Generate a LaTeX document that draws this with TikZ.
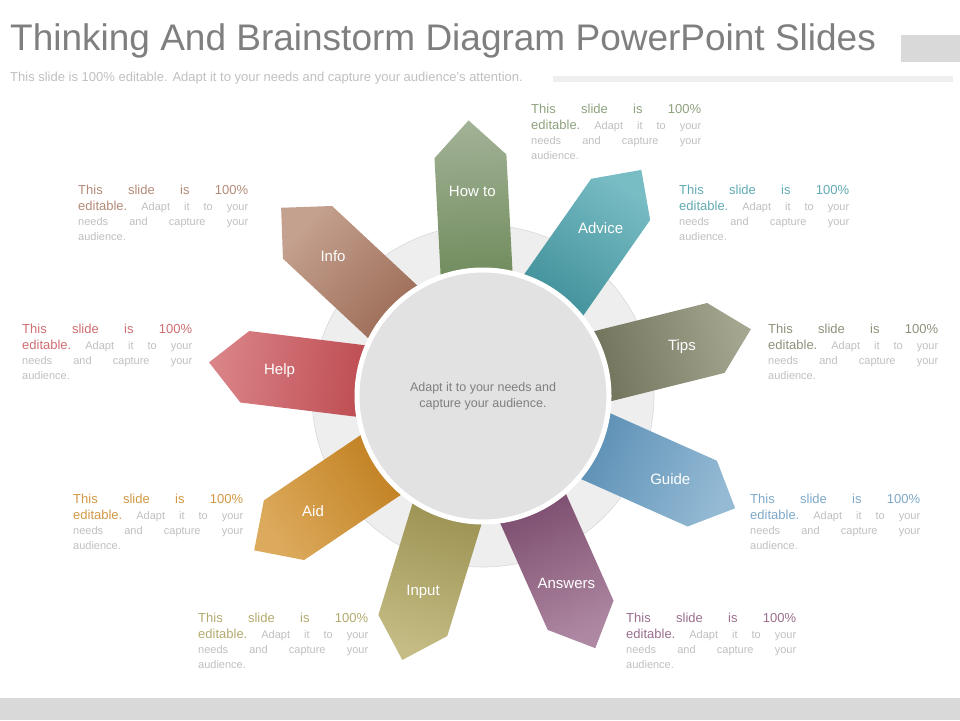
\documentclass[tikz,border=0pt]{standalone}
\usepackage{fontspec}
\setmainfont{Liberation Sans}
\definecolor{titlegray}{HTML}{7F7F7F}
\definecolor{subgray}{HTML}{BFBFBF}
\definecolor{bargray}{HTML}{D9D9D9}
\definecolor{ringgray}{HTML}{EEEEEE}
\definecolor{hubgray}{HTML}{E2E2E2}
\definecolor{howD}{HTML}{6E8A5A}\definecolor{howL}{HTML}{A2B296}
\definecolor{advD}{HTML}{3E8E98}\definecolor{advL}{HTML}{78BCC4}
\definecolor{tipD}{HTML}{6E7058}\definecolor{tipL}{HTML}{A4A690}
\definecolor{gdeD}{HTML}{5A8EB4}\definecolor{gdeL}{HTML}{94BAD4}
\definecolor{ansD}{HTML}{7A4A6C}\definecolor{ansL}{HTML}{AE88A2}
\definecolor{inpD}{HTML}{9A9050}\definecolor{inpL}{HTML}{C4BC84}
\definecolor{aidD}{HTML}{C07E1E}\definecolor{aidL}{HTML}{DCAA5C}
\definecolor{hlpD}{HTML}{BC4A50}\definecolor{hlpL}{HTML}{DA8488}
\definecolor{infD}{HTML}{9A6A54}\definecolor{infL}{HTML}{C4A08E}
\newcommand{\descbox}[1]{%
  \hbox to 170pt{\fontsize{13pt}{15pt}\selectfont\color{#1}This\hfill slide\hfill is\hfill 100\%}\\[1pt]
  \hbox to 170pt{{\fontsize{13pt}{15pt}\selectfont\color{#1}editable.}\hfill Adapt\hfill it\hfill to\hfill your}\\
  \hbox to 170pt{needs\hfill and\hfill capture\hfill your}\\
  \hbox to 170pt{audience.\hfill}}
\begin{document}
\begin{tikzpicture}
    [
        x = 1pt, y = -1pt,
        lbl/.style  = {text=white, font=\fontsize{15pt}{17pt}\selectfont},
        desc/.style = {anchor=north west, inner sep=0pt, text=subgray,
                       font=\fontsize{11pt}{15pt}\selectfont, align=left},
    ]
    \useasboundingbox (0,0) rectangle (960,720);
    % header and footer
    \node [anchor=west, inner sep=0pt, text=titlegray, font=\fontsize{37pt}{42pt}\selectfont] (title) at (10,41)
        {Thinking And Brainstorm Diagram PowerPoint Slides};
    \node [anchor=west, inner sep=0pt, text=subgray, font=\fontsize{13pt}{15pt}\selectfont] (subtitle) at (10,78)
        {This slide is 100\% editable. Adapt it to your needs and capture your audience's attention.};
    \fill [bargray] (901,35) rectangle (960,62);
    \fill [ringgray] (553,76) rectangle (953,82);
    \fill [bargray] (0,698) rectangle (960,720);
    % ring
    \coordinate (c) at (483,396);
    \fill [ringgray, draw=bargray, line width=0.6pt] (c) circle (171);
    % arrows
    \foreach \ang/\lab/\dc/\lc [count=\i] in {93/How to/howD/howL, 55/Advice/advD/advL,
        14/Tips/tipD/tipL, -24/Guide/gdeD/gdeL, -66/Answers/ansD/ansL, -107/Input/inpD/inpL,
        -146/Aid/aidD/aidL, 173/Help/hlpD/hlpL, 137/Info/infD/infL}
    {
        \begin{scope}[shift={(c)}, rotate=\ang]
            \shade [top color=\lc, bottom color=\dc, shading angle=\ang-90]
                (110,-36) -- (240,-36) -- (276,0) -- (240,36) -- (110,36) -- cycle;
            \node [lbl] (arrow\i) at (205,0) {\lab};
        \end{scope}
    }
    % hub
    \fill [hubgray, draw=white, line width=5pt] (c) circle (126);
    \node [text=titlegray, align=center, font=\fontsize{12.5pt}{16pt}\selectfont] (hub) at (c)
        {Adapt it to your needs and\\capture your audience.};
    % descriptions
    \node [desc] (dhow) at (531,104) {\descbox{howL!60!howD}};
    \node [desc] (dadv) at (679,185) {\descbox{advL!60!advD}};
    \node [desc] (dtip) at (768,324) {\descbox{tipL!60!tipD}};
    \node [desc] (dgde) at (750,494) {\descbox{gdeL!60!gdeD}};
    \node [desc] (dans) at (626,613) {\descbox{ansL!60!ansD}};
    \node [desc] (dinp) at (198,613) {\descbox{inpL!60!inpD}};
    \node [desc] (daid) at (73,494) {\descbox{aidL!60!aidD}};
    \node [desc] (dhlp) at (22,324) {\descbox{hlpL!60!hlpD}};
    \node [desc] (dinf) at (78,185) {\descbox{infL!60!infD}};
\end{tikzpicture}
\end{document}
